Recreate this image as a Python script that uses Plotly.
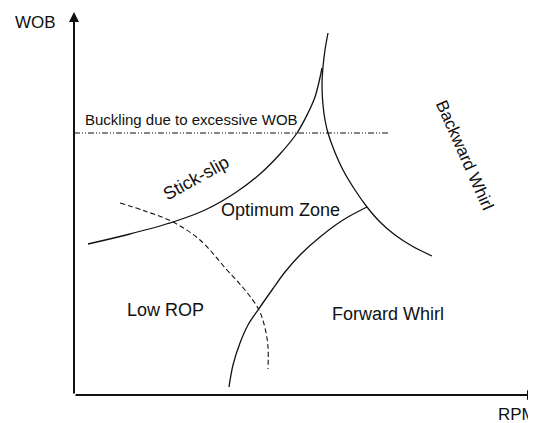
import plotly.graph_objects as go

# schematic units: origin at the corner of the RPM / WOB axes
stick_x = [14, 56, 99, 131, 161, 186, 206, 223, 234, 241, 245, 248]
stick_y = [151, 161, 173, 185, 202, 221, 241, 262, 282, 298, 313, 327]

backward_x = [254, 251, 249, 248, 249, 251, 254, 260, 269, 281, 293, 306, 321, 338, 358]
backward_y = [362, 345, 328, 310, 290, 275, 262, 245, 225, 205, 188, 173, 160, 149, 139]

forward_x = [155, 159, 166, 174, 184, 198, 211, 226, 246, 269, 293]
forward_y = [8, 30, 52, 70, 85, 105, 123, 140, 158, 175, 188]

low_rop_x = [46, 71, 99, 126, 153, 171, 185, 191, 194, 194]
low_rop_y = [192, 184, 173, 155, 125, 105, 85, 67, 48, 26]

buckling_x = [0, 316]
buckling_y = [262, 262]

# label text, position, angle, size
labels = [
    ("Buckling due to excessive WOB", 117, 276, 0, 15),
    ("Stick-slip", 122, 217, -29, 18),
    ("Optimum Zone", 206, 185, 0, 18),
    ("Low ROP", 91, 85, 0, 18),
    ("Forward Whirl", 314, 81, 0, 18),
    ("Backward Whirl", 391, 240, 66, 17),
]

FONT = "Liberation Sans, Arial, sans-serif"
INK = "#111111"

fig = go.Figure()

line = dict(color=INK, width=1.3)
fig.add_trace(go.Scatter(x=stick_x, y=stick_y, mode="lines", line_shape="spline", line=line))
fig.add_trace(go.Scatter(x=backward_x, y=backward_y, mode="lines", line_shape="spline", line=line))
fig.add_trace(go.Scatter(x=forward_x, y=forward_y, mode="lines", line_shape="spline", line=line))
fig.add_trace(go.Scatter(x=low_rop_x, y=low_rop_y, mode="lines", line_shape="spline",
                         line=dict(color=INK, width=1.1, dash="5px,3px")))
fig.add_trace(go.Scatter(x=buckling_x, y=buckling_y, mode="lines",
                         line=dict(color=INK, width=1.1, dash="6px,2px,1px,2px,1px,2px")))

# axis arrows
fig.add_annotation(x=0, y=383, ax=0, ay=0, xref="x", yref="y", axref="x", ayref="y",
                   showarrow=True, arrowhead=2, arrowsize=1, arrowwidth=2, arrowcolor=INK, text="")
fig.add_annotation(x=463, y=0, ax=0, ay=0, xref="x", yref="y", axref="x", ayref="y",
                   showarrow=True, arrowhead=2, arrowsize=1, arrowwidth=2, arrowcolor=INK, text="")

fig.add_annotation(x=-39, y=373, text="WOB", showarrow=False,
                   font=dict(family=FONT, size=17, color=INK))
fig.add_annotation(x=443, y=-19, text="RPM", showarrow=False,
                   font=dict(family=FONT, size=17, color=INK))

for text, x, y, angle, size in labels:
    fig.add_annotation(x=x, y=y, text=text, showarrow=False, textangle=angle,
                       font=dict(family=FONT, size=size, color=INK))

# the page puts the plot 8px in from the top-left corner
fig.update_xaxes(range=[-66, 462], visible=False, fixedrange=True)
fig.update_yaxes(range=[-28, 387], visible=False, fixedrange=True)
fig.update_layout(
    width=528, height=415,
    margin=dict(l=0, r=0, t=0, b=0),
    showlegend=False,
    plot_bgcolor="white",
    paper_bgcolor="white",
)

fig.write_html("out.html")
